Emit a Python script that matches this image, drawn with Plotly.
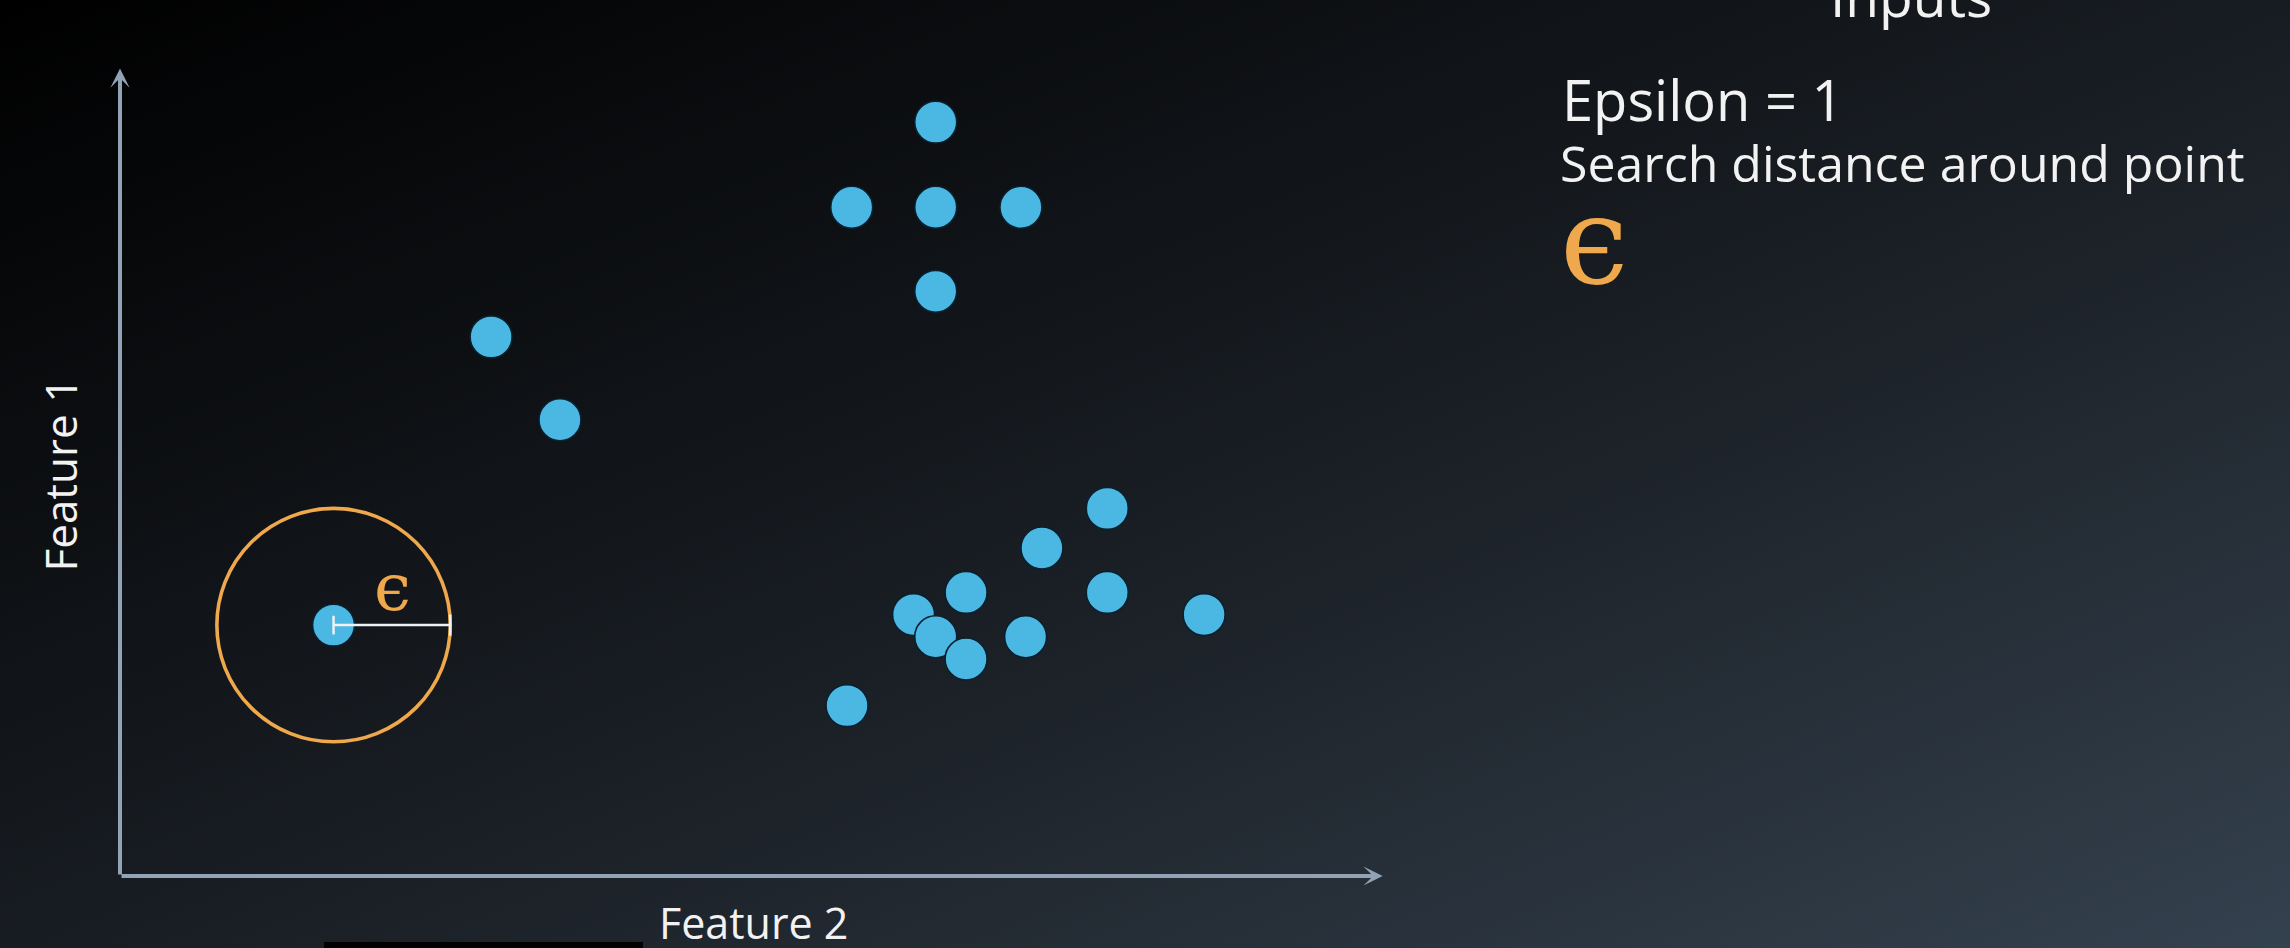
import base64
import plotly.graph_objects as go

# ---- data (units: epsilon = 1) ----
feature_2 = [1.83, 3.18, 3.77, 6.27, 6.99, 6.99, 6.99, 7.72, 6.23, 6.80, 6.99, 7.25, 7.25, 7.76, 7.90, 8.46, 8.46, 9.29]
feature_1 = [2.15, 4.62, 3.91, 5.73, 6.46, 5.73, 5.01, 5.73, 1.46, 2.24, 2.05, 2.43, 1.86, 2.05, 2.81, 3.15, 2.43, 2.24]
core_index = 0
epsilon = 1.0
x_axis_end = 10.82
y_axis_end = 6.92

W, H = 2290, 948
U = 116.7            # pixels per unit
X0, Y0 = 120, 876    # pixel position of the origin

AXIS_COL = "#93a3b6"
ORANGE = "#EFA84C"
BLUE = "#4bb8e3"
TXT = "#f2f2f2"

svg = f'''<svg xmlns="http://www.w3.org/2000/svg" width="{W}" height="{H}" viewBox="0 0 {W} {H}" preserveAspectRatio="none">
<defs><linearGradient id="g" x1="0" y1="0" x2="1" y2="1">
<stop offset="0" stop-color="#000000"/>
<stop offset="0.35" stop-color="#101317"/>
<stop offset="0.62" stop-color="#1e242b"/>
<stop offset="1" stop-color="#34414e"/>
</linearGradient></defs>
<rect x="0" y="0" width="{W}" height="{H}" fill="url(#g)"/>
</svg>'''
src = "data:image/svg+xml;base64," + base64.b64encode(svg.encode()).decode()

fig = go.Figure()
fig.add_trace(go.Scatter(
    x=feature_2, y=feature_1, mode="markers",
    marker=dict(size=42, color=BLUE, line=dict(color="#08202f", width=1.6)),
    hoverinfo="skip", showlegend=False,
))

cx, cy = feature_2[core_index], feature_1[core_index]
shapes = [
    dict(type="circle", xref="x", yref="y", x0=cx - epsilon, x1=cx + epsilon,
         y0=cy - epsilon, y1=cy + epsilon, line=dict(color=ORANGE, width=3.6)),
    dict(type="line", xref="x", yref="y", x0=cx, x1=cx + epsilon, y0=cy, y1=cy,
         line=dict(color="#eef2f5", width=2.5)),
    dict(type="line", xref="x", yref="y", x0=cx, x1=cx, y0=cy - 0.08, y1=cy + 0.08,
         line=dict(color="#eef2f5", width=2.5)),
    dict(type="line", xref="x", yref="y", x0=cx + epsilon, x1=cx + epsilon, y0=cy - 0.09, y1=cy + 0.09,
         line=dict(color="#eef2f5", width=2.5)),
    dict(type="rect", xref="paper", yref="paper", x0=324 / W, x1=643 / W, y0=0, y1=6 / H,
         fillcolor="#000000", line=dict(width=0)),
]

def py(p):  # pixel y -> paper
    return 1 - p / H

annotations = [
    # axes arrows
    dict(x=x_axis_end, y=0, ax=0, ay=0, xref="x", yref="y", axref="x", ayref="y",
         text="", showarrow=True, arrowhead=3, arrowsize=0.8, arrowwidth=4, arrowcolor=AXIS_COL),
    dict(x=0, y=y_axis_end, ax=0, ay=0, xref="x", yref="y", axref="x", ayref="y",
         text="", showarrow=True, arrowhead=3, arrowsize=0.8, arrowwidth=4, arrowcolor=AXIS_COL),
    # axis titles
    dict(text="Feature 2", x=753 / W, y=py(922), xref="paper", yref="paper",
         xanchor="center", yanchor="middle", showarrow=False,
         font=dict(family="Open Sans", size=43, color=TXT)),
    dict(text="Feature 1", x=59.5 / W, y=py(475), xref="paper", yref="paper",
         xanchor="center", yanchor="middle", showarrow=False, textangle=-90,
         font=dict(family="Open Sans", size=44, color=TXT)),
    # epsilon label in circle
    dict(text="ϵ", x=cx + 0.505, y=cy + 0.323, xref="x", yref="y",
         xanchor="center", yanchor="middle", showarrow=False,
         font=dict(family="DejaVu Serif", size=66, color=ORANGE)),
    # right-side texts
    dict(text="Inputs", x=1911 / W, y=py(-4.7), xref="paper", yref="paper",
         xanchor="center", yanchor="middle", showarrow=False,
         font=dict(family="Open Sans", size=55, color=TXT)),
    dict(text="Epsilon = 1", x=1560 / W, y=py(98.5), xref="paper", yref="paper",
         xanchor="left", yanchor="middle", showarrow=False,
         font=dict(family="Open Sans", size=56, color=TXT)),
    dict(text="Search distance around point", x=1558 / W, y=py(163.0), xref="paper", yref="paper",
         xanchor="left", yanchor="middle", showarrow=False,
         font=dict(family="Open Sans", size=50, color=TXT)),
    dict(text="ϵ", x=1594 / W, y=py(241), xref="paper", yref="paper",
         xanchor="center", yanchor="middle", showarrow=False,
         font=dict(family="DejaVu Serif", size=122, color=ORANGE)),
]

fig.update_layout(
    width=W, height=H, margin=dict(l=0, r=0, t=0, b=0, pad=0),
    paper_bgcolor="#15191e", plot_bgcolor="rgba(0,0,0,0)",
    xaxis=dict(range=[-X0 / U, (W - X0) / U], visible=False, fixedrange=True),
    yaxis=dict(range=[(Y0 - H) / U, Y0 / U], visible=False, fixedrange=True),
    images=[dict(source=src, xref="paper", yref="paper", x=0, y=1, sizex=1, sizey=1,
                 sizing="stretch", xanchor="left", yanchor="top", layer="below")],
    shapes=shapes, annotations=annotations, showlegend=False,
)

fig.write_html("out.html", config={"displayModeBar": False})
